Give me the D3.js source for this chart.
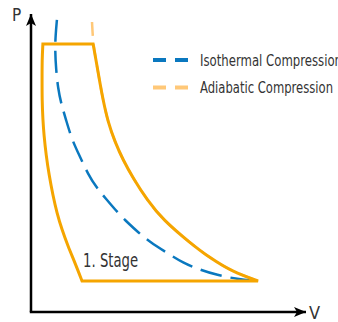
<!DOCTYPE html>
<html>
<head>
<meta charset="utf-8">
<script src="https://cdn.jsdelivr.net/npm/d3@7"></script>
<style>
  html, body { margin: 0; padding: 0; background: #fff; }
  svg { display: block; }
  text { font-family: "Liberation Sans Narrow", "DejaVu Sans Condensed", "Liberation Sans", sans-serif; font-stretch: condensed; fill: #333; }
</style>
</head>
<body>
<div id="chart"></div>
<script>
"use strict";

// values, [V, P]
const isothermal = [
    [9.6, 108.2], [9.1, 102.6], [8.9, 97.0], [9.3, 89.6], [10.0, 83.0], [11.1, 77.4],
    [13.0, 71.1], [15.2, 63.7], [18.2, 57.4], [21.1, 51.1], [24.1, 46.3], [27.8, 41.9],
    [32.2, 36.7], [35.9, 33.0], [39.6, 29.6], [44.1, 25.9], [50.4, 21.9], [56.3, 18.2],
    [62.6, 15.6], [68.9, 13.7], [76.3, 12.2], [84.1, 11.5]
];

const adiabatic = [
    [22.6, 107.4], [23.0, 99.3], [24.4, 91.5], [25.6, 84.4], [26.7, 78.5], [28.5, 70.4],
    [31.1, 63.0], [34.1, 56.3], [37.8, 49.6], [43.0, 41.5], [48.9, 34.1], [58.9, 25.6],
    [66.3, 20.0], [74.8, 14.8], [84.1, 11.5]
];

// 1st stage cycle: compression curve, suction line, re-expansion curve, discharge line
const compression = [
    [23.0, 99.3], [24.4, 91.5], [25.6, 84.4], [26.7, 78.5], [28.5, 70.4], [31.1, 63.0],
    [34.1, 56.3], [37.8, 49.6], [43.0, 41.5], [48.9, 34.1], [58.9, 25.6], [66.3, 20.0],
    [74.8, 14.8], [84.1, 11.5]
];
const suction = [[84.1, 11.5], [18.9, 11.5]];
const reexpansion = [
    [18.9, 11.5], [16.3, 18.2], [13.7, 24.4], [11.5, 30.4], [9.6, 36.7], [8.1, 43.3],
    [6.7, 50.7], [5.6, 58.1], [4.8, 65.6], [4.4, 71.1], [4.1, 78.5], [4.1, 85.9],
    [4.1, 93.3], [4.4, 99.3]
];
const discharge = [[4.4, 99.3], [23.0, 99.3]];

const seriesNames = ["Isothermal Compression", "Adiabatic Compression"];
const seriesTextWidth = [142, 133];
const stageLabel = "1. Stage";

const blue = "#0a78bf";
const orange = "#f5a500";
const lightOrange = "#ffc878";

const W = 338, H = 322;
const svg = d3.select("#chart").append("svg")
    .attr("width", W)
    .attr("height", H);

const x = d3.scaleLinear().domain([0, 100]).range([31, 301]);
const y = d3.scaleLinear().domain([0, 110]).range([312, 15]);

const smooth = d3.line().x(d => x(d[0])).y(d => y(d[1])).curve(d3.curveBasis);
const straight = d3.line().x(d => x(d[0])).y(d => y(d[1]));

// axes with arrow heads
svg.append("defs").append("marker")
    .attr("id", "arrow")
    .attr("viewBox", "-12 -6 13 12")
    .attr("refX", 0).attr("refY", 0)
    .attr("markerWidth", 13).attr("markerHeight", 12)
    .attr("markerUnits", "userSpaceOnUse")
    .attr("orient", "auto")
    .append("path")
    .attr("d", "M0,0 L-12,-5 L-9,0 L-12,5 Z")
    .attr("fill", "#000");

svg.append("line")
    .attr("x1", x(0)).attr("y1", y(0))
    .attr("x2", x(0)).attr("y2", 14)
    .attr("stroke", "#000").attr("stroke-width", 2.5)
    .attr("marker-end", "url(#arrow)");

svg.append("line")
    .attr("x1", x(0) - 1.2).attr("y1", y(0))
    .attr("x2", 306).attr("y2", y(0))
    .attr("stroke", "#000").attr("stroke-width", 2.5)
    .attr("marker-end", "url(#arrow)");

svg.append("text").attr("x", 12).attr("y", 21)
    .style("font-size", "17px").text("P");
svg.append("text").attr("x", 309).attr("y", 319)
    .style("font-size", "18px").text("V");

// dashed reference curves
svg.append("path")
    .attr("d", smooth(adiabatic))
    .attr("fill", "none")
    .attr("stroke", lightOrange)
    .attr("stroke-width", 2.5)
    .attr("stroke-dasharray", "14,8");

svg.append("path")
    .attr("d", smooth(isothermal))
    .attr("fill", "none")
    .attr("stroke", blue)
    .attr("stroke-width", 2.5)
    .attr("stroke-dasharray", "22,9");

// the cycle, joined into one path so corners stay sharp
const parts = [smooth(compression), straight(suction), smooth(reexpansion), straight(discharge)];
svg.append("path")
    .attr("d", parts.map((p, i) => i ? p.replace(/^M/, "L") : p).join("") + "Z")
    .attr("fill", "none")
    .attr("stroke", orange)
    .attr("stroke-width", 3)
    .attr("stroke-linejoin", "miter");

svg.append("text")
    .attr("x", x(19.3)).attr("y", 267)
    .attr("textLength", 55)
    .attr("lengthAdjust", "spacingAndGlyphs")
    .style("font-size", "19px")
    .text(stageLabel);

// legend
const legend = svg.append("g").attr("transform", "translate(153,60)");
const items = legend.selectAll("g")
    .data(seriesNames)
    .enter().append("g")
    .attr("transform", (d, i) => "translate(0," + i * 27.5 + ")");

items.append("line")
    .attr("x1", 0).attr("x2", 35)
    .attr("stroke", (d, i) => i ? lightOrange : blue)
    .attr("stroke-width", 4)
    .attr("stroke-dasharray", "13,9");

items.append("text")
    .attr("x", 47).attr("y", 5.5)
    .attr("textLength", (d, i) => seriesTextWidth[i])
    .attr("lengthAdjust", "spacingAndGlyphs")
    .style("font-size", "16px")
    .text(d => d);
</script>
</body>
</html>
